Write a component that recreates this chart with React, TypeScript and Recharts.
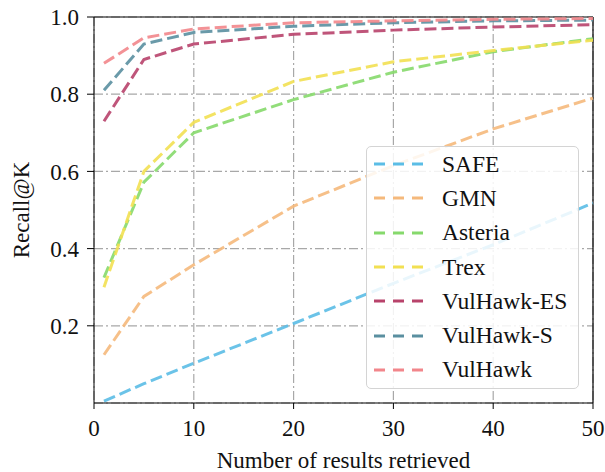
import React from "react";
import { LineChart, Line, XAxis, YAxis, CartesianGrid, ReferenceLine } from "recharts";

const kValues = [1, 5, 10, 20, 30, 40, 50];
const safe = [0.005, 0.05, 0.103, 0.206, 0.31, 0.41, 0.518];
const gmn = [0.125, 0.276, 0.358, 0.51, 0.615, 0.71, 0.79];
const asteria = [0.325, 0.572, 0.7, 0.786, 0.857, 0.91, 0.944];
const trex = [0.3, 0.6, 0.727, 0.833, 0.884, 0.913, 0.94];
const vulhawkES = [0.73, 0.89, 0.93, 0.955, 0.966, 0.974, 0.98];
const vulhawkS = [0.81, 0.93, 0.96, 0.976, 0.985, 0.99, 0.992];
const vulhawk = [0.88, 0.946, 0.969, 0.985, 0.99, 0.994, 0.996];

const xTicks = [0, 10, 20, 30, 40, 50];
const yTicks = [0.2, 0.4, 0.6, 0.8, 1.0];

const series = [
  { key: "SAFE", values: safe, color: "#5bbde6" },
  { key: "GMN", values: gmn, color: "#f5b97c" },
  { key: "Asteria", values: asteria, color: "#86d96c" },
  { key: "Trex", values: trex, color: "#f2e052" },
  { key: "VulHawk-ES", values: vulhawkES, color: "#b8436b" },
  { key: "VulHawk-S", values: vulhawkS, color: "#5a8fa0" },
  { key: "VulHawk", values: vulhawk, color: "#f2868b" },
];

const data = kValues.map((k, i) => {
  const row: Record<string, number> = { k };
  series.forEach((s) => (row[s.key] = s.values[i]));
  return row;
});

const FONT = "Liberation Serif";

function LegendBox() {
  return (
    <div
      style={{
        position: "absolute",
        left: 366,
        top: 146,
        width: 213,
        height: 243,
        background: "rgba(255,255,255,0.85)",
        border: "1px solid #d4d4d4",
        borderRadius: 5,
        boxSizing: "border-box",
      }}
    >
      {series.map((s) => (
        <div key={s.key} style={{ display: "flex", alignItems: "center", height: 34.3, marginLeft: 7 }}>
          <svg width={50} height={6}>
            <line x1={0} y1={3} x2={50} y2={3} stroke={s.color} strokeWidth={3} strokeDasharray="11 8" />
          </svg>
          <span style={{ fontFamily: FONT, fontSize: 23.5, color: "#111", marginLeft: 18 }}>{s.key}</span>
        </div>
      ))}
    </div>
  );
}

export default function App() {
  return (
    <div style={{ position: "absolute", left: 0, top: 0, width: 605, height: 472, background: "#fff" }}>
      <LineChart width={605} height={472} data={data} margin={{ top: 17, right: 12, bottom: 0, left: 0 }}>
        <CartesianGrid stroke="#a8a8a8" strokeDasharray="9 3 2 3" strokeWidth={1.2} />
        <XAxis
          dataKey="k"
          type="number"
          domain={[0, 50]}
          ticks={xTicks}
          height={69}
          stroke="#000"
          tickSize={6}
          tickMargin={11}
          tick={{ fontFamily: FONT, fontSize: 23, fill: "#111" }}
          label={{ value: "Number of results retrieved", position: "insideBottom", offset: 4, fontFamily: FONT, fontSize: 23, fill: "#111" }}
        />
        <YAxis
          type="number"
          domain={[0, 1]}
          ticks={yTicks}
          width={94}
          stroke="#000"
          tickSize={7}
          tickMargin={8}
          tickFormatter={(v: number) => v.toFixed(1)}
          tick={{ fontFamily: FONT, fontSize: 23, fill: "#111" }}
          label={{ value: "Recall@K", angle: -90, position: "insideLeft", offset: 21, fontFamily: FONT, fontSize: 23, fill: "#111", style: { textAnchor: "middle" } }}
        />
        <ReferenceLine y={1} stroke="#000" strokeWidth={1.2} />
        <ReferenceLine x={50} stroke="#000" strokeWidth={1.2} />
        {series.map((s) => (
          <Line
            key={s.key}
            dataKey={s.key}
            stroke={s.color}
            strokeWidth={3}
            strokeOpacity={0.9}
            strokeDasharray="12 5"
            dot={false}
            isAnimationActive={false}
          />
        ))}
      </LineChart>
      <LegendBox />
    </div>
  );
}
